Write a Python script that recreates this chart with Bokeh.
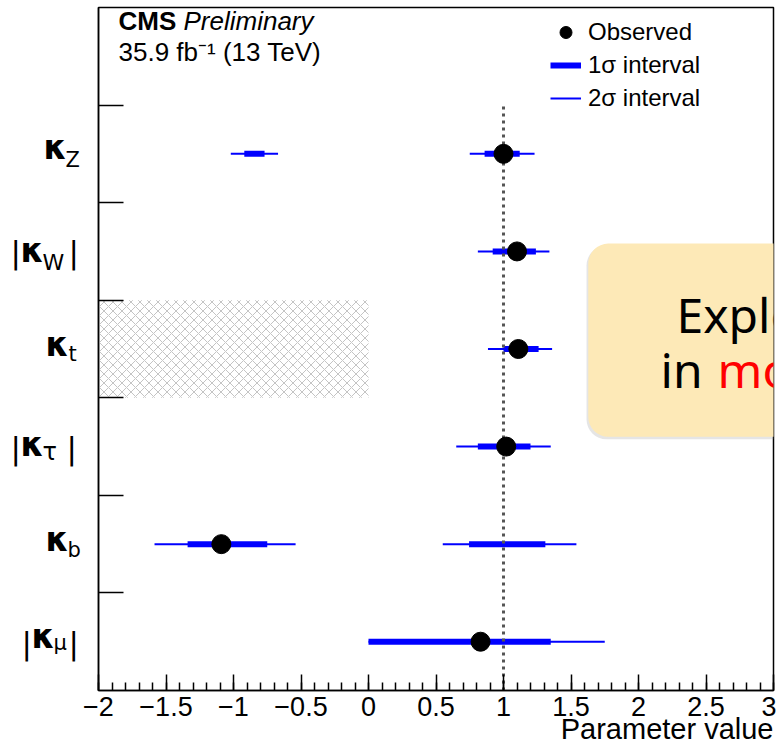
from bokeh.plotting import figure
from bokeh.layouts import row
from bokeh.models import (Label, Legend, LegendItem, FixedTicker, BoxAnnotation, Title)
from bokeh.embed import file_html
from bokeh.resources import INLINE

# ---------------- data ----------------
params = ["κZ", "|κW|", "κt", "|κτ|", "κb", "|κμ|"]
y_pos = [5.5, 4.5, 3.5, 2.5, 1.5, 0.5]
observed = [1.00, 1.10, 1.11, 1.02, -1.09, 0.83]
s1_lo = [0.86, 0.92, 1.00, 0.81, -1.34, 0.00]
s1_hi = [1.12, 1.24, 1.26, 1.20, -0.75, 1.35]
s2_lo = [0.75, 0.81, 0.885, 0.65, -1.585, 0.00]
s2_hi = [1.23, 1.34, 1.36, 1.35, -0.54, 1.75]

# secondary (disjoint) intervals
sec_y = [5.5, 1.5]
sec_s1_lo = [-0.92, 0.745]
sec_s1_hi = [-0.77, 1.31]
sec_s2_lo = [-1.02, 0.55]
sec_s2_hi = [-0.67, 1.54]

# excluded (hatched) region for kappa_t
excl_left = [-2.0]
excl_right = [0.0]
excl_bottom = [3.0]
excl_top = [4.0]

sm_value = 1.0
row_edges = [1, 2, 3, 4, 5, 6]
x_major = [-2.0, -1.5, -1.0, -0.5, 0.0, 0.5, 1.0, 1.5, 2.0, 2.5, 3.0]
x_minor = [round(-2 + 0.1 * i, 1) for i in range(51)]

FONT = "Liberation Sans"
KFONT = "DejaVu Sans"
BLUE = "#0000ff"
W_TOTAL, H_TOTAL = 776, 746
WL = 81           # width of the label strip on the left
FRAME_LEFT = 98
TOP = 7
BOTTOM = 56

p = figure(width=W_TOTAL - WL, height=H_TOTAL, x_range=(-2, 3), y_range=(0, 7),
           output_backend="svg", toolbar_location=None,
           min_border_left=FRAME_LEFT - WL, min_border_right=3, min_border_top=TOP,
           min_border_bottom=BOTTOM)
p.grid.visible = False
p.outline_line_color = "black"
p.outline_line_width = 1.5

# x axis
xa = p.xaxis[0]
xa.ticker = FixedTicker(ticks=x_major, minor_ticks=x_minor)
xa.major_label_overrides = {t: (f"{t:g}").replace("-", "−") for t in x_major}
xa.major_tick_in = 16
xa.major_tick_out = 0
xa.minor_tick_in = 8
xa.minor_tick_out = 0
xa.major_tick_line_width = 1.5
xa.minor_tick_line_width = 1.5
xa.axis_line_width = 1.5
xa.major_label_text_font = FONT
xa.major_label_text_font_size = "27px"
xa.major_label_text_color = "black"
xa.major_label_standoff = 6

# y axis
ya = p.yaxis[0]
ya.ticker = FixedTicker(ticks=row_edges, minor_ticks=[])
ya.major_tick_in = 25
ya.major_tick_out = 0
ya.major_tick_line_width = 1.5
ya.axis_line_width = 1.5
ya.minor_tick_line_color = None
ya.major_label_standoff = 0
ya.major_label_overrides = {t: "" for t in row_edges}

# x axis title, right aligned
p.add_layout(Title(text="Parameter value", align="right", text_font=FONT,
                   text_font_size="29px", text_font_style="normal",
                   text_color="black", standoff=-15), "below")

# hatched excluded region
p.quad(left=excl_left, right=excl_right, bottom=excl_bottom, top=excl_top,
       fill_alpha=0, line_color=None, hatch_pattern="x",
       hatch_color="#c4c4c4", hatch_scale=9, hatch_weight=1)

# intervals
r_s2 = p.segment(x0=s2_lo, x1=s2_hi, y0=y_pos, y1=y_pos, line_color=BLUE, line_width=2)
p.segment(x0=sec_s2_lo, x1=sec_s2_hi, y0=sec_y, y1=sec_y, line_color=BLUE, line_width=2)
r_s1 = p.segment(x0=s1_lo, x1=s1_hi, y0=y_pos, y1=y_pos, line_color=BLUE, line_width=6)
p.segment(x0=sec_s1_lo, x1=sec_s1_hi, y0=sec_y, y1=sec_y, line_color=BLUE, line_width=6)

# SM reference line
p.segment(x0=[sm_value], x1=[sm_value], y0=[0], y1=[row_edges[-1]],
          line_color="#555555", line_width=3, line_dash="3 4")

# observed points
r_pt = p.scatter(x=observed, y=y_pos, size=19, color="black")

# legend
legend = Legend(items=[LegendItem(label="Observed", renderers=[r_pt]),
                       LegendItem(label="1σ interval", renderers=[r_s1]),
                       LegendItem(label="2σ interval", renderers=[r_s2])],
                location=(452, 577), glyph_width=31, glyph_height=30, spacing=3,
                padding=0, margin=0, border_line_color=None, background_fill_alpha=0,
                label_text_font=FONT, label_text_font_size="24px",
                label_text_color="black", label_standoff=7)
p.add_layout(legend)


def lab(text, x_img, y_img_base, size, style="normal", color="black", font=FONT):
    """text anchored to the frame's top-left corner, offsets in pixels"""
    p.add_layout(Label(x=-2, y=7, x_offset=x_img - FRAME_LEFT, y_offset=-(y_img_base - TOP),
                       text=text, text_font=font, text_font_size=f"{size}px",
                       text_font_style=style, text_color=color,
                       text_align="left", text_baseline="alphabetic"))


lab("CMS", 118, 20, 26, "bold")
lab("Preliminary", 183, 20, 26, "italic")
lab("35.9 fb⁻¹ (13 TeV)", 118, 51, 26)

# callout overlay
p.add_layout(BoxAnnotation(left=1.615, right=3.2, bottom=2.575, top=4.56,
                           fill_color="#999999", fill_alpha=0.25, line_color=None,
                           border_radius=20))
p.add_layout(BoxAnnotation(left=1.628, right=3.2, bottom=2.60, top=4.58,
                           fill_color="#fde9b7", fill_alpha=1, line_color=None,
                           border_radius=20))
lab("Explo", 676, 314, 48, "normal", "black", "Noto Sans")
lab("in", 660, 369, 48, "normal", "black", "Noto Sans")
lab("mo", 717, 369, 48, "normal", "#ff0000", "Noto Sans")

# ---------------- left strip with the parameter labels ----------------
pl = figure(width=WL, height=H_TOTAL, x_range=(0, WL), y_range=p.y_range,
            output_backend="svg", toolbar_location=None,
            min_border_left=0, min_border_right=0, min_border_top=TOP,
            min_border_bottom=BOTTOM)
pl.axis.visible = False
pl.grid.visible = False
pl.outline_line_color = None

# pieces: (text, left x in px, baseline offset below row centre, size, style)
pieces = {
    5.5: [("κ", 43, -6, 33, "bold"), ("Z", 65, 6, 21, "normal")],
    4.5: [("|", 10, 1, 31, "normal"), ("κ", 20, -1, 33, "bold"), ("W", 42, 11, 22, "normal"), ("|", 68, 1, 31, "normal")],
    3.5: [("κ", 45, -5, 33, "bold"), ("t", 68, 5, 21, "normal")],
    2.5: [("|", 10, 1, 31, "normal"), ("κ", 20, -2, 33, "bold"), ("τ", 42, 5, 24, "normal"), ("|", 66, 1, 31, "normal")],
    1.5: [("κ", 45, -5, 33, "bold"), ("b", 67, 6, 21, "normal")],
    0.5: [("|", 21, 1, 31, "normal"), ("κ", 31, -5, 33, "bold"), ("μ", 53, 1, 21, "normal"), ("|", 68, 1, 31, "normal")],
}
for yc in y_pos:
    for (t, xl, dy, sz, st) in pieces[yc]:
        pl.add_layout(Label(x=xl, y=yc, y_offset=-dy, text=t,
                            text_font=KFONT, text_font_size=f"{sz}px", text_font_style=st,
                            text_color="black",
                            text_align="left", text_baseline="alphabetic"))

layout = row(pl, p)
open("out.html", "w").write(file_html(layout, INLINE))
